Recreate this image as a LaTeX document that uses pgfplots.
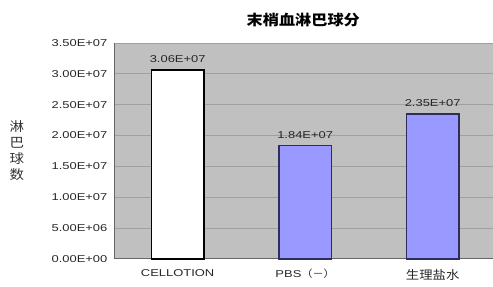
\documentclass[border=0pt]{standalone}
\usepackage{pgfplots}
\pgfplotsset{compat=1.18}
\usepackage{fontspec}
\setmainfont{Liberation Sans}[FakeStretch=1.3]
\newfontfamily\cjk{Noto Sans CJK SC}[FakeStretch=1.12]
\definecolor{plotbg}{HTML}{C0C0C0}
\definecolor{gridc}{HTML}{A0A0A0}
\definecolor{barblue}{HTML}{9999FF}
\definecolor{barborder}{HTML}{2E2E5C}
\begin{document}
\begin{tikzpicture}
\begin{axis}[
  scale only axis,
  width=379bp, height=216bp,
  xmin=-0.5, xmax=2.47,
  ymin=0, ymax=3.5e7,
  axis background/.style={fill=plotbg},
  axis x line*=bottom, axis y line*=left,
  axis line style={draw=black!60, line width=0.8pt},
  ymajorgrids, major grid style={draw=gridc, line width=0.7pt},
  major tick length=0pt,
  xtick={0,1,2},
  xticklabels={CELLOTION, {PBS\cjk（－）}, {\cjk\fontsize{12}{12}\selectfont 生理盐水}},
  ytick={0,5e6,1e7,1.5e7,2e7,2.5e7,3e7,3.5e7},
  yticklabels={0.00E+00,5.00E+06,1.00E+07,1.50E+07,2.00E+07,2.50E+07,3.00E+07,3.50E+07},
  scaled y ticks=false,
  tick label style={font=\fontsize{10}{12}\selectfont, text=black!85},
  yticklabel style={xshift=-3bp},
  xticklabel style={yshift=-7bp},
  title={\cjk\bfseries 末梢血淋巴球分},
  title style={at={(0.5,1)}, anchor=center, yshift=17bp, font=\fontsize{14.5}{16}\selectfont},
  every axis y label/.style={at={(rel axis cs:0,0.5)}, anchor=center, xshift=-97bp, align=center, font=\fontsize{13}{16}\selectfont, text=black!80},
  ylabel={\cjk 淋\\\cjk 巴\\\cjk 球\\\cjk 数},
  ybar, bar width=0.41, bar shift=0pt,
  point meta=explicit symbolic,
  nodes near coords,
  every node near coord/.style={font=\fontsize{10}{12}\selectfont, text=black!85, anchor=south, yshift=3bp},
  clip=false,
]
\addplot[fill=white, draw=black, line width=1.5pt] coordinates {(0,3.06e7) [3.06E+07]};
\addplot[fill=barblue, draw=barborder, line width=1.5pt] coordinates {(1,1.84e7) [1.84E+07] (2,2.35e7) [2.35E+07]};
\end{axis}
\path (current axis.south west) ++(-114bp,-28bp) rectangle ++(493bp,287bp);
\end{tikzpicture}
\end{document}
